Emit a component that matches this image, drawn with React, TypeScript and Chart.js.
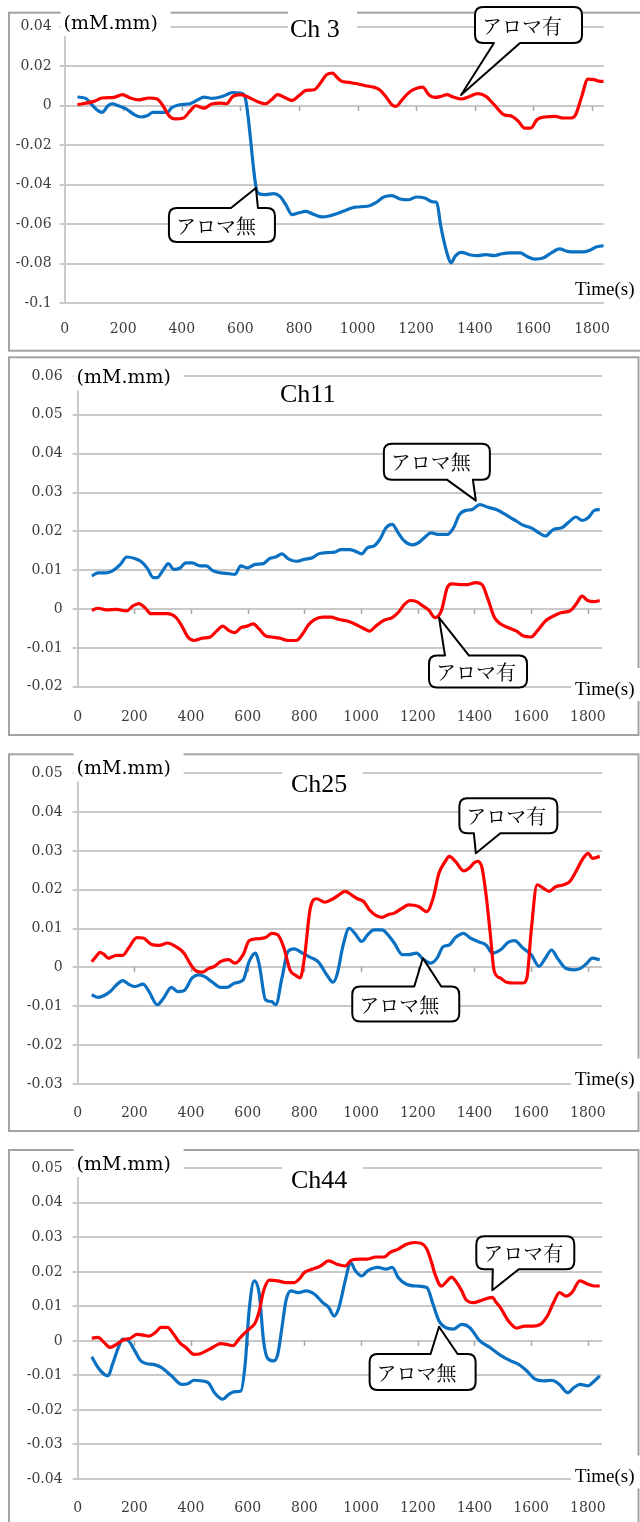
import React, { useEffect, useRef } from "react";
import { Chart, registerables } from "chart.js";

Chart.register(...registerables);

// ---------------- data ----------------
const X_TICKS = [0, 200, 400, 600, 800, 1000, 1200, 1400, 1600, 1800];

const CH3_Y_TICKS = [0.04, 0.02, 0, -0.02, -0.04, -0.06, -0.08, -0.1];
const CH11_Y_TICKS = [0.06, 0.05, 0.04, 0.03, 0.02, 0.01, 0, -0.01, -0.02];
const CH25_Y_TICKS = [0.05, 0.04, 0.03, 0.02, 0.01, 0, -0.01, -0.02, -0.03];
const CH44_Y_TICKS = [0.05, 0.04, 0.03, 0.02, 0.01, 0, -0.01, -0.02, -0.03, -0.04];

const TITLES = ["Ch 3", "Ch11", "Ch25", "Ch44"];
const UNIT_LABEL = "(mM.mm)";
const TIME_LABEL = "Time(s)";
const LABEL_WITH = "アロマ有";
const LABEL_WITHOUT = "アロマ無";

// [time (s), value (mM.mm)]
const CH3_WITH: number[][] = [
  [44, 0.0005], [100, 0.0022], [128, 0.0039], [169, 0.0042], [197, 0.0056], [225, 0.0039], [253, 0.003],
  [288, 0.0039], [316, 0.0034], [337, -0.0003], [358, -0.0054], [378, -0.0067], [406, -0.0062], [427, -0.0029],
  [448, 0], [476, -0.0012], [504, 0.001], [532, 0.0013], [553, 0.001], [574, 0.0047], [601, 0.0056],
  [629, 0.0042], [657, 0.0022], [685, 0.001], [706, 0.003], [727, 0.0056], [755, 0.0039], [776, 0.0027],
  [804, 0.0056], [824, 0.0078], [852, 0.0081], [873, 0.0115], [894, 0.0157], [915, 0.0165], [929, 0.0145],
  [943, 0.0126], [971, 0.0118], [999, 0.0111], [1027, 0.0101], [1054, 0.0094], [1075, 0.0081], [1096, 0.0047],
  [1117, 0.0005], [1131, -0.0003], [1152, 0.003], [1173, 0.0064], [1194, 0.0084], [1222, 0.0094], [1243, 0.0056],
  [1263, 0.0042], [1284, 0.0047], [1305, 0.0056], [1326, 0.0044], [1354, 0.0034], [1382, 0.0047], [1410, 0.0061],
  [1438, 0.0047], [1466, 0.0005], [1500, -0.0046], [1528, -0.0054], [1549, -0.0079], [1570, -0.0113], [1591, -0.0113],
  [1612, -0.0071], [1640, -0.0057], [1675, -0.0054], [1702, -0.0062], [1730, -0.0062], [1744, -0.0046], [1765, 0.0047],
  [1786, 0.0135], [1807, 0.0132], [1828, 0.0123], [1840, 0.0123],
];
const CH3_WITHOUT: number[][] = [
  [44, 0.0044], [72, 0.0037], [93, 0.0005], [114, -0.0025], [128, -0.0034], [148, 0], [162, 0.001], [183, 0],
  [211, -0.0017], [239, -0.0046], [260, -0.0057], [281, -0.0051], [302, -0.0034], [330, -0.0034], [351, -0.0034],
  [364, -0.0012], [392, 0.0005], [427, 0.001], [455, 0.003], [476, 0.0044], [504, 0.0037], [532, 0.0044],
  [553, 0.0056], [574, 0.0067], [601, 0.0064], [615, 0.0047], [660, -0.0442], [685, -0.045], [713, -0.0445],
  [735, -0.0459], [755, -0.0501], [776, -0.0551], [797, -0.0543], [824, -0.0535], [852, -0.0551], [880, -0.0563],
  [908, -0.0556], [936, -0.0543], [964, -0.0526], [992, -0.0513], [1034, -0.0509], [1061, -0.0492], [1089, -0.0462],
  [1117, -0.0455], [1145, -0.0472], [1173, -0.0476], [1201, -0.0462], [1229, -0.0467], [1257, -0.0487], [1270, -0.0489],
  [1284, -0.061], [1305, -0.0745], [1319, -0.0796], [1333, -0.0762], [1354, -0.0742], [1382, -0.0754], [1410, -0.0759],
  [1438, -0.0754], [1466, -0.0759], [1493, -0.0749], [1521, -0.0745], [1556, -0.0745], [1577, -0.0762], [1605, -0.0776],
  [1633, -0.0771], [1661, -0.0745], [1689, -0.0725], [1716, -0.0737], [1744, -0.074], [1772, -0.074], [1793, -0.0732],
  [1814, -0.0715], [1840, -0.0708],
];

const CH11_WITHOUT: number[][] = [
  [50, 0.0085], [72, 0.0093], [101, 0.0093], [123, 0.0098], [151, 0.0115], [173, 0.0134], [202, 0.013], [223, 0.0123],
  [245, 0.0106], [267, 0.0081], [281, 0.0081], [303, 0.0102], [320, 0.0117], [339, 0.0102], [360, 0.0105], [382, 0.0119],
  [404, 0.0119], [432, 0.0111], [454, 0.0111], [476, 0.0099], [504, 0.0093], [533, 0.0091], [555, 0.0089], [576, 0.0111],
  [598, 0.0106], [627, 0.0115], [656, 0.0117], [677, 0.013], [699, 0.0134], [721, 0.0142], [742, 0.013], [771, 0.0123],
  [800, 0.0128], [829, 0.0132], [850, 0.0142], [879, 0.0145], [908, 0.0147], [929, 0.0153], [958, 0.0153], [980, 0.0149],
  [1002, 0.0142], [1023, 0.0158], [1045, 0.0162], [1066, 0.0179], [1088, 0.0209], [1110, 0.0218], [1131, 0.0196],
  [1153, 0.0175], [1182, 0.0165], [1203, 0.0171], [1225, 0.0185], [1247, 0.0196], [1275, 0.0192], [1304, 0.0192],
  [1326, 0.0209], [1347, 0.0243], [1369, 0.0254], [1391, 0.0256], [1419, 0.0269], [1448, 0.0262], [1477, 0.0256],
  [1506, 0.0245], [1528, 0.0235], [1549, 0.0226], [1571, 0.0216], [1600, 0.0209], [1628, 0.0196], [1650, 0.0188],
  [1679, 0.0205], [1708, 0.0209], [1736, 0.0226], [1758, 0.0237], [1780, 0.0228], [1801, 0.0235], [1823, 0.0254],
  [1842, 0.0256],
];
const CH11_WITH: number[][] = [
  [50, -0.0003], [72, 0.0002], [101, -0.0002], [137, -0.0001], [173, -0.0005], [195, 0.0008], [216, 0.0014],
  [238, 0.0003], [259, -0.0012], [288, -0.0012], [317, -0.0012], [346, -0.0021], [368, -0.0044], [389, -0.0072],
  [411, -0.0081], [440, -0.0075], [468, -0.0072], [490, -0.0057], [512, -0.0044], [533, -0.0055], [555, -0.0061],
  [576, -0.0048], [598, -0.0044], [620, -0.0038], [641, -0.0052], [663, -0.0069], [685, -0.0072], [713, -0.0075],
  [742, -0.0081], [771, -0.0081], [793, -0.0065], [814, -0.0041], [836, -0.0027], [865, -0.0021], [893, -0.0021],
  [922, -0.0027], [951, -0.0031], [980, -0.0039], [1009, -0.005], [1030, -0.0057], [1052, -0.0044], [1081, -0.0029],
  [1110, -0.0022], [1131, -0.0009], [1153, 0.0012], [1174, 0.0022], [1196, 0.0019], [1218, 0.0008], [1239, -0.0003],
  [1261, -0.0022], [1283, -0.0005], [1304, 0.0055], [1319, 0.0065], [1347, 0.0063], [1376, 0.0063], [1405, 0.0068],
  [1427, 0.0063], [1448, 0.0025], [1470, -0.0021], [1491, -0.0038], [1520, -0.0048], [1549, -0.0057], [1571, -0.0069],
  [1600, -0.0072], [1621, -0.0057], [1650, -0.0031], [1679, -0.0018], [1708, -0.0009], [1736, -0.0005], [1758, 0.0012],
  [1780, 0.0033], [1801, 0.0021], [1823, 0.0019], [1842, 0.0022],
];

const CH25_WITH: number[][] = [
  [50, 0.0015], [65, 0.0028], [79, 0.0039], [94, 0.0033], [108, 0.0024], [137, 0.0031], [159, 0.0031], [180, 0.005],
  [209, 0.0077], [231, 0.0076], [259, 0.006], [288, 0.0057], [317, 0.0063], [346, 0.0054], [375, 0.0037], [396, 0.0011],
  [418, -0.0009], [440, -0.0012], [461, -0.0003], [483, 0.0003], [504, 0.0015], [533, 0.002], [555, 0.0011], [584, 0.0033],
  [605, 0.0069], [634, 0.0074], [663, 0.0077], [685, 0.0088], [706, 0.0084], [728, 0.005], [749, -0.0006], [771, -0.0021],
  [785, -0.0027], [800, 0.0024], [821, 0.0153], [843, 0.0177], [872, 0.0168], [901, 0.0177], [922, 0.0187], [944, 0.0196],
  [966, 0.0187], [987, 0.0177], [1009, 0.017], [1030, 0.0148], [1052, 0.0134], [1074, 0.0129], [1095, 0.0136],
  [1117, 0.014], [1146, 0.0153], [1167, 0.0161], [1203, 0.0157], [1232, 0.0144], [1254, 0.0178], [1275, 0.0243],
  [1297, 0.0273], [1311, 0.0286], [1333, 0.0273], [1362, 0.0249], [1383, 0.0257], [1398, 0.0269], [1412, 0.0273],
  [1427, 0.0256], [1441, 0.0187], [1455, 0.0093], [1470, -0.001], [1491, -0.0027], [1513, -0.0038], [1542, -0.004],
  [1571, -0.004], [1585, -0.0027], [1600, 0.0093], [1621, 0.0213], [1643, 0.0204], [1664, 0.0196], [1686, 0.0208],
  [1715, 0.0213], [1736, 0.0221], [1758, 0.0247], [1780, 0.0277], [1801, 0.0294], [1816, 0.0281], [1842, 0.0286],
];
const CH25_WITHOUT: number[][] = [
  [50, -0.007], [72, -0.0077], [94, -0.0072], [115, -0.0062], [137, -0.0045], [159, -0.0034], [180, -0.0043],
  [202, -0.0049], [231, -0.0043], [252, -0.0062], [281, -0.0096], [303, -0.0079], [331, -0.0051], [353, -0.0062],
  [375, -0.006], [404, -0.0027], [425, -0.0019], [447, -0.0023], [476, -0.0038], [504, -0.0051], [526, -0.0051],
  [555, -0.004], [584, -0.0032], [605, 0.0015], [627, 0.0037], [641, 0.0007], [663, -0.0083], [685, -0.0088],
  [699, -0.0096], [721, -0.0027], [742, 0.0041], [764, 0.0048], [793, 0.0037], [821, 0.0026], [850, 0.0014],
  [879, -0.0019], [901, -0.0038], [915, -0.0019], [937, 0.0058], [958, 0.0101], [980, 0.0086], [1002, 0.0067],
  [1023, 0.0084], [1045, 0.0097], [1074, 0.0097], [1095, 0.0084], [1117, 0.0063], [1146, 0.0033], [1167, 0.0033],
  [1196, 0.0037], [1218, 0.0022], [1247, 0.0011], [1268, 0.0024], [1290, 0.0054], [1311, 0.0058], [1333, 0.0077],
  [1362, 0.0088], [1383, 0.0077], [1412, 0.0067], [1441, 0.0058], [1463, 0.0037], [1491, 0.0045], [1520, 0.0065],
  [1542, 0.0069], [1571, 0.005], [1600, 0.0033], [1628, 0.0003], [1650, 0.0024], [1672, 0.0045], [1693, 0.0024],
  [1722, -0.0002], [1751, -0.0006], [1772, -0.0003], [1794, 0.0009], [1816, 0.0024], [1842, 0.002],
];

const CH44_WITH: number[][] = [
  [50, 0.0008], [72, 0.001], [94, -0.0005], [115, -0.0019], [137, -0.001], [159, 0.0002], [187, 0.0008], [209, 0.0019],
  [231, 0.0017], [252, 0.0014], [274, 0.0024], [295, 0.0039], [317, 0.0039], [339, 0.0019], [360, -0.0005],
  [382, -0.0019], [411, -0.0039], [432, -0.0037], [454, -0.0029], [476, -0.0019], [504, -0.0008], [526, -0.001],
  [548, -0.0014], [569, 0.0005], [591, 0.0024], [612, 0.0039], [627, 0.0053], [641, 0.0087], [656, 0.0145],
  [677, 0.0176], [706, 0.0174], [735, 0.0169], [764, 0.0169], [785, 0.0182], [800, 0.0198], [829, 0.0208],
  [857, 0.0217], [886, 0.0232], [915, 0.0222], [944, 0.0217], [966, 0.0234], [994, 0.0237], [1023, 0.0237],
  [1052, 0.0243], [1081, 0.0243], [1102, 0.0256], [1131, 0.0266], [1160, 0.028], [1189, 0.0285], [1218, 0.028],
  [1232, 0.0266], [1247, 0.0232], [1261, 0.0193], [1283, 0.0159], [1304, 0.0174], [1319, 0.0185], [1333, 0.0174],
  [1355, 0.0145], [1369, 0.0121], [1398, 0.0111], [1419, 0.0116], [1448, 0.0124], [1463, 0.0126], [1477, 0.0111],
  [1491, 0.0097], [1520, 0.0058], [1549, 0.0037], [1578, 0.0043], [1607, 0.0043], [1636, 0.005], [1657, 0.0072],
  [1679, 0.0111], [1700, 0.014], [1722, 0.013], [1744, 0.014], [1772, 0.0174], [1801, 0.0164], [1823, 0.0159],
  [1842, 0.0159],
];
const CH44_WITHOUT: number[][] = [
  [50, -0.0046], [72, -0.0077], [94, -0.0097], [108, -0.0101], [123, -0.0068], [144, -0.0019], [159, 0.0005],
  [180, 0], [202, -0.0029], [223, -0.0058], [245, -0.0066], [267, -0.0068], [295, -0.0077], [331, -0.0101],
  [368, -0.0126], [389, -0.0124], [411, -0.0114], [440, -0.0116], [461, -0.0121], [483, -0.015], [512, -0.0169],
  [533, -0.0155], [555, -0.0147], [576, -0.0145], [591, -0.0068], [605, 0.0087], [623, 0.0174], [641, 0.0135],
  [656, 0], [670, -0.005], [692, -0.0058], [706, -0.0039], [721, 0.0039], [735, 0.0116], [752, 0.0145], [778, 0.014],
  [807, 0.0145], [836, 0.0135], [865, 0.0111], [886, 0.0097], [905, 0.0072], [922, 0.0097], [944, 0.0174],
  [963, 0.0227], [980, 0.0203], [1002, 0.0188], [1023, 0.0203], [1059, 0.0213], [1088, 0.0208], [1110, 0.0213],
  [1131, 0.0184], [1160, 0.0164], [1196, 0.0159], [1232, 0.0155], [1254, 0.0106], [1275, 0.0058], [1297, 0.0039],
  [1326, 0.0034], [1355, 0.0048], [1383, 0.0039], [1419, 0], [1455, -0.0019], [1491, -0.0041], [1528, -0.0058],
  [1556, -0.0068], [1585, -0.0087], [1614, -0.0111], [1643, -0.0116], [1672, -0.0114], [1700, -0.0126],
  [1729, -0.015], [1751, -0.0135], [1772, -0.0126], [1801, -0.013], [1823, -0.0116], [1842, -0.0101],
];

// ---------------- styles / layout ----------------
const RED = "#ff0000";
const BLUE = "#0a70c2";
const GRID = "#c9c9c9";
const FRAME = "#a3a3a3";
const TICK_COLOR = "#3c3c3c";
const NUM_FONT = "DejaVu Serif";
const JP_FONT = '"Noto Serif CJK JP", "Noto Sans CJK JP", sans-serif';
const LINE_W = 3.2;

type Callout = {
  text: string; t: number; v: number;
  dx: number; dy: number; w: number; h: number;
  side: "top" | "bottom"; b0: number; b1: number;
};

type PanelDef = {
  key: string; title: string;
  canvasTop: number; height: number;
  area: { left: number; right: number; top: number; bottom: number };
  xMax: number; yMin: number; yMax: number; yTicks: number[];
  withAroma: number[][]; withoutAroma: number[][];
  frame: { top: number; bottom: number; right: number };
  titleX: number; titleY: number; titleBox: number[] | null;
  unitY: number; timeY: number;
  xPad: number; yPad: number;
  callouts: Callout[];
};

const PANELS: PanelDef[] = [
  {
    key: "p1", title: TITLES[0], canvasTop: 0, height: 354,
    area: { left: 64.6, right: 603.7, top: 26.7, bottom: 303.3 },
    xMax: 1840, yMin: -0.1, yMax: 0.04, yTicks: CH3_Y_TICKS,
    withAroma: CH3_WITH, withoutAroma: CH3_WITHOUT,
    frame: { top: 12.7, bottom: 350.7, right: 660 },
    titleX: 290, titleY: 37, titleBox: [288, 0, 69, 44],
    unitY: 24, timeY: 290, xPad: 18, yPad: 8,
    callouts: [
      { text: LABEL_WITH, t: 1353, v: 0.0054, dx: 14, dy: -88, w: 107, h: 36, side: "bottom", b0: 19, b1: 45 },
      { text: LABEL_WITHOUT, t: 653, v: -0.0416, dx: -87, dy: 20, w: 106, h: 34, side: "top", b0: 62, b1: 89 },
    ],
  },
  {
    key: "p2", title: TITLES[1], canvasTop: 354, height: 391,
    area: { left: 77.6, right: 602, top: 376, bottom: 686.7 },
    xMax: 1850, yMin: -0.02, yMax: 0.06, yTicks: CH11_Y_TICKS,
    withAroma: CH11_WITH, withoutAroma: CH11_WITHOUT,
    frame: { top: 357.3, bottom: 735, right: 638.5 },
    titleX: 280, titleY: 402, titleBox: null,
    unitY: 378.5, timeY: 690, xPad: 22, yPad: 10,
    callouts: [
      { text: LABEL_WITHOUT, t: 1405, v: 0.0279, dx: -92, dy: -57, w: 106, h: 36, side: "bottom", b0: 63, b1: 89 },
      { text: LABEL_WITH, t: 1275, v: -0.0022, dx: -10, dy: 38, w: 98, h: 32, side: "top", b0: 16, b1: 40 },
    ],
  },
  {
    key: "p3", title: TITLES[2], canvasTop: 745, height: 395,
    area: { left: 77.6, right: 602, top: 773.3, bottom: 1084 },
    xMax: 1850, yMin: -0.03, yMax: 0.05, yTicks: CH25_Y_TICKS,
    withAroma: CH25_WITH, withoutAroma: CH25_WITHOUT,
    frame: { top: 754.3, bottom: 1131, right: 638.5 },
    titleX: 291, titleY: 792, titleBox: [282, 766, 81, 32],
    unitY: 769.5, timeY: 1080.5, xPad: 21, yPad: 10,
    callouts: [
      { text: LABEL_WITH, t: 1405, v: 0.0294, dx: -16.5, dy: -55, w: 98, h: 35, side: "bottom", b0: 14.5, b1: 41 },
      { text: LABEL_WITHOUT, t: 1218, v: 0.0024, dx: -70.6, dy: 28.4, w: 107, h: 35, side: "top", b0: 62, b1: 89 },
    ],
  },
  {
    key: "p4", title: TITLES[3], canvasTop: 1140, height: 382,
    area: { left: 77.6, right: 602, top: 1168.3, bottom: 1479 },
    xMax: 1850, yMin: -0.04, yMax: 0.05, yTicks: CH44_Y_TICKS,
    withAroma: CH44_WITH, withoutAroma: CH44_WITHOUT,
    frame: { top: 1150, bottom: 1540, right: 638.5 },
    titleX: 291, titleY: 1188.3, titleBox: [282, 1161, 81, 33],
    unitY: 1165, timeY: 1477.5, xPad: 21, yPad: 10,
    callouts: [
      { text: LABEL_WITH, t: 1463, v: 0.0147, dx: -16, dy: -54, w: 98, h: 33, side: "bottom", b0: 16.5, b1: 42.5 },
      { text: LABEL_WITHOUT, t: 1275, v: 0.0041, dx: -69.4, dy: 27.3, w: 106, h: 36, side: "top", b0: 61, b1: 88 },
    ],
  },
];

function fmtTick(v: number): string {
  const r = Math.round(v * 1000) / 1000;
  return r === 0 ? "0" : String(r);
}

function drawCallout(ctx: CanvasRenderingContext2D, c: Callout, tipX: number, tipY: number) {
  const x = tipX + c.dx;
  const y = tipY + c.dy;
  const w = c.w;
  const h = c.h;
  const r = 8;
  const bx0 = x + c.b0;
  const bx1 = x + c.b1;
  ctx.save();
  ctx.beginPath();
  ctx.moveTo(x + r, y);
  if (c.side === "top") {
    ctx.lineTo(bx0, y);
    ctx.lineTo(tipX, tipY);
    ctx.lineTo(bx1, y);
  }
  ctx.lineTo(x + w - r, y);
  ctx.quadraticCurveTo(x + w, y, x + w, y + r);
  ctx.lineTo(x + w, y + h - r);
  ctx.quadraticCurveTo(x + w, y + h, x + w - r, y + h);
  if (c.side === "bottom") {
    ctx.lineTo(bx1, y + h);
    ctx.lineTo(tipX, tipY);
    ctx.lineTo(bx0, y + h);
  }
  ctx.lineTo(x + r, y + h);
  ctx.quadraticCurveTo(x, y + h, x, y + h - r);
  ctx.lineTo(x, y + r);
  ctx.quadraticCurveTo(x, y, x + r, y);
  ctx.closePath();
  ctx.fillStyle = "#ffffff";
  ctx.fill();
  ctx.strokeStyle = "#000000";
  ctx.lineWidth = 2;
  ctx.lineJoin = "round";
  ctx.stroke();
  ctx.fillStyle = "#000000";
  ctx.font = `20px ${JP_FONT}`;
  ctx.textAlign = "left";
  ctx.textBaseline = "middle";
  ctx.fillText(c.text, x + 7, y + h / 2 + 1);
  ctx.restore();
}

function PanelChart({ p }: { p: PanelDef }) {
  const ref = useRef<HTMLCanvasElement | null>(null);

  useEffect(() => {
    const canvas = ref.current;
    if (!canvas) return;
    const off = p.canvasTop;
    const localBottom = p.area.bottom - off;

    const overlay = {
      id: "overlay_" + p.key,
      beforeDatasetsDraw(chart: any) {
        const ctx: CanvasRenderingContext2D = chart.ctx;
        const xs = chart.scales.x;
        const ys = chart.scales.y;
        const y0 = Math.round(ys.getPixelForValue(0));
        ctx.save();
        ctx.strokeStyle = "#a8a8a8";
        ctx.lineWidth = 1.5;
        for (const v of X_TICKS) {
          if (v === 0) continue;
          const px = Math.round(xs.getPixelForValue(v)) + 0.5;
          ctx.beginPath();
          ctx.moveTo(px, y0);
          ctx.lineTo(px, y0 + 5);
          ctx.stroke();
        }
        ctx.restore();
      },
      afterDraw(chart: any) {
        const ctx: CanvasRenderingContext2D = chart.ctx;
        const xs = chart.scales.x;
        const ys = chart.scales.y;
        ctx.save();
        // frame
        ctx.strokeStyle = FRAME;
        ctx.lineWidth = 2;
        ctx.strokeRect(9, p.frame.top - off, p.frame.right - 9, p.frame.bottom - p.frame.top);

        // unit label
        const ax = chart.chartArea.left;
        ctx.fillStyle = "#ffffff";
        ctx.fillRect(ax - 4, p.unitY - 17 - off, 110, 29);
        ctx.fillStyle = "#000000";
        ctx.font = `19px "${NUM_FONT}"`;
        ctx.textAlign = "left";
        ctx.textBaseline = "middle";
        ctx.fillText(UNIT_LABEL, ax - 1, p.unitY - off);

        // title
        if (p.titleBox) {
          ctx.fillStyle = "#ffffff";
          ctx.fillRect(p.titleBox[0], p.titleBox[1] - off, p.titleBox[2], p.titleBox[3]);
        }
        ctx.fillStyle = "#000000";
        ctx.font = `26px "Liberation Serif"`;
        ctx.textBaseline = "alphabetic";
        ctx.fillText(p.title, p.titleX, p.titleY - off);

        // time label
        ctx.fillStyle = "#ffffff";
        ctx.fillRect(571, p.timeY - 22 - off, 80, 33);
        ctx.fillStyle = "#000000";
        ctx.font = `19px "Liberation Serif"`;
        ctx.textBaseline = "middle";
        ctx.fillText(TIME_LABEL, 575, p.timeY - off);
        ctx.restore();

        // callouts
        for (const c of p.callouts) {
          const tx = xs.getPixelForValue(c.t);
          const ty = ys.getPixelForValue(c.v);
          drawCallout(ctx, c, tx, ty);
        }
      },
    };

    const chart = new Chart(canvas, {
      type: "line",
      data: {
        datasets: [
          {
            label: LABEL_WITH,
            data: p.withAroma.map((d) => ({ x: d[0], y: d[1] })),
            borderColor: RED,
            borderWidth: LINE_W,
            pointRadius: 0,
            cubicInterpolationMode: "monotone",
            fill: false,
          },
          {
            label: LABEL_WITHOUT,
            data: p.withoutAroma.map((d) => ({ x: d[0], y: d[1] })),
            borderColor: BLUE,
            borderWidth: LINE_W,
            pointRadius: 0,
            cubicInterpolationMode: "monotone",
            fill: false,
          },
        ],
      },
      options: {
        animation: false,
        responsive: false,
        maintainAspectRatio: false,
        events: [],
        layout: {
          padding: { left: 0, top: p.area.top - off, right: 640 - p.area.right, bottom: 0 },
        },
        plugins: {
          legend: { display: false },
          tooltip: { enabled: false },
          title: { display: false },
        },
        scales: {
          x: {
            type: "linear",
            min: 0,
            max: p.xMax,
            afterBuildTicks: (s: any) => {
              s.ticks = X_TICKS.map((v) => ({ value: v }));
            },
            afterFit: (s: any) => {
              s.height = p.height - localBottom;
              s.paddingLeft = 0;
              s.paddingRight = 0;
            },
            grid: { display: false, drawTicks: false },
            border: { display: false },
            ticks: {
              padding: p.xPad,
              autoSkip: false,
              maxRotation: 0,
              color: TICK_COLOR,
              font: { family: NUM_FONT, size: 14 },
              callback: (v: any) => String(v),
            },
          },
          y: {
            type: "linear",
            min: p.yMin,
            max: p.yMax,
            afterBuildTicks: (s: any) => {
              s.ticks = p.yTicks.map((v) => ({ value: v }));
            },
            afterFit: (s: any) => {
              s.width = p.area.left;
              s.paddingTop = 0;
              s.paddingBottom = 0;
            },
            grid: { color: GRID, lineWidth: 2, tickLength: 5 },
            border: { display: true, color: GRID, width: 2 },
            ticks: {
              padding: p.yPad,
              color: TICK_COLOR,
              font: { family: NUM_FONT, size: 14 },
              callback: (v: any) => fmtTick(Number(v)),
            },
          },
        },
      },
      plugins: [overlay],
    } as any);

    return () => chart.destroy();
  }, [p]);

  return (
    <canvas
      ref={ref}
      width={640}
      height={p.height}
      style={{ position: "absolute", left: 0, top: p.canvasTop, width: 640, height: p.height }}
    />
  );
}

export default function App() {
  return (
    <div style={{ position: "absolute", left: 0, top: 0, width: 640, height: 1522, background: "#ffffff", overflow: "hidden" }}>
      {PANELS.map((p) => (
        <PanelChart key={p.key} p={p} />
      ))}
    </div>
  );
}
